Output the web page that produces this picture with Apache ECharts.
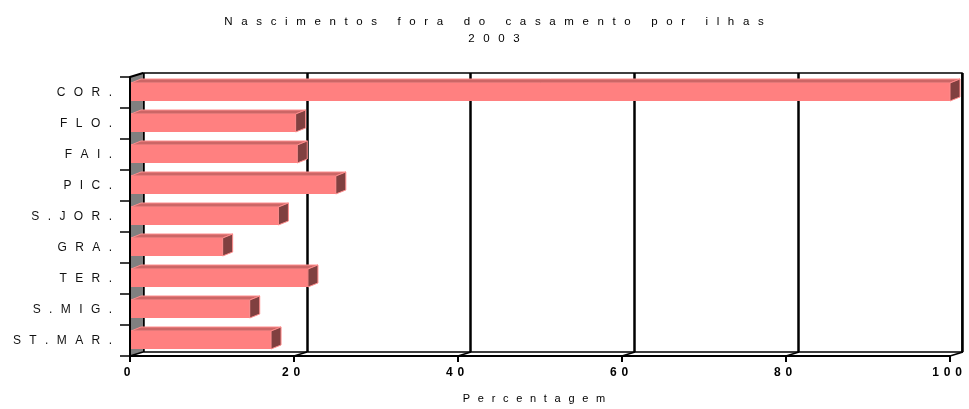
<!DOCTYPE html>
<html><head><meta charset="utf-8">
<script src="https://cdn.jsdelivr.net/npm/echarts@6/dist/echarts.min.js"></script>
<style>html,body{margin:0;padding:0;background:#fff}#c{width:969px;height:409px}</style>
</head><body><div id="c"></div>
<script>
// ---- data ----
const categories = ['COR.', 'FLO.', 'FAI.', 'PIC.', 'S.JOR.', 'GRA.', 'TER.', 'S.MIG.', 'ST.MAR.'];
const values = [100, 20.2, 20.4, 25.1, 18.1, 11.3, 21.7, 14.6, 17.2];
const xTicks = [0, 20, 40, 60, 80, 100];
const titleLines = ['Nascimentos fora do casamento por ilhas', '2003'];
const xName = 'Percentagem';

// ---- style ----
const FONT = '"Liberation Sans", Arial, sans-serif';
const SEP = '\u2002\u2009';
function spaced(s, sep) { return String(s).split('').join(sep || SEP); }
const DX = 13, DY = -4;     // wall depth
const BDX = 10, BDY = -4;   // bar depth
const FRONT = '#FF8080', TOP = '#CC6666', SIDE = '#804040', EDGE = '#FF8C8C', WALL = '#808080';

const chart = echarts.init(document.getElementById('c'), null, {renderer: 'canvas'});

const option = {
  animation: false,
  backgroundColor: '#fff',
  title: {
    text: titleLines.map(l => spaced(l, '\u2002\u2005')).join('\n'),
    left: 489, top: 8, textAlign: 'center',
    textStyle: {fontFamily: FONT, fontSize: 11.5, fontWeight: 'normal', color: '#000', lineHeight: 17}
  },
  grid: [
    {left: 130, right: 19, top: 77, bottom: 53},
    {left: 143, right: 7, top: 73, bottom: 57, show: true, borderColor: '#000', borderWidth: 1.5, backgroundColor: 'transparent'}
  ],
  xAxis: [
    {
      gridIndex: 0, type: 'value', min: 0, max: 100, interval: 20,
      axisLine: {show: true, lineStyle: {color: '#000', width: 2}},
      axisTick: {show: true, length: 6, lineStyle: {color: '#000', width: 2}},
      splitLine: {show: false},
      axisLabel: {formatter: v => spaced(v, '\u2009\u2009'), fontFamily: FONT, fontSize: 12, fontWeight: 'bold', color: '#000', margin: 11, padding: [0, 6, 0, 0]},
      name: spaced(xName), nameLocation: 'middle', nameGap: 37,
      nameTextStyle: {fontFamily: FONT, fontSize: 11, color: '#000', padding: [0, 12, 0, 0]}
    },
    {
      gridIndex: 1, type: 'value', min: 0, max: 100, interval: 20,
      axisLine: {show: false}, axisTick: {show: false}, axisLabel: {show: false},
      splitLine: {show: true, lineStyle: {color: '#000', width: 2.5}}
    }
  ],
  yAxis: [
    {
      gridIndex: 0, type: 'category', data: categories, inverse: true,
      axisLine: {show: true, lineStyle: {color: '#000', width: 2}},
      axisTick: {show: true, length: 10, lineStyle: {color: '#000', width: 1.5}},
      axisLabel: {formatter: v => spaced(v), fontFamily: FONT, fontSize: 12, color: '#111', margin: 18},
      splitLine: {show: false}
    },
    {gridIndex: 1, type: 'category', data: categories, inverse: true, show: false}
  ],
  series: [
    { // left wall + top-left edge
      type: 'custom', xAxisIndex: 0, yAxisIndex: 0, z: 1, silent: true,
      data: [[0, 0]], encode: {x: 0, y: 1},
      renderItem: function (params, api) {
        const cs = params.coordSys;
        const x0 = cs.x + 1, top = cs.y, bot = cs.y + cs.height;
        return {type: 'group', children: [
          {type: 'polygon', shape: {points: [[x0, top], [x0 + DX - 1, top + DY], [x0 + DX - 1, bot + DY], [x0, bot]]}, style: {fill: WALL}},
          {type: 'line', shape: {x1: cs.x, y1: top, x2: cs.x + DX, y2: top + DY}, style: {stroke: '#000', lineWidth: 2}}
        ]};
      }
    },
    { // floor edges at each tick
      type: 'custom', xAxisIndex: 0, yAxisIndex: 0, z: 1, silent: true,
      data: xTicks.map(v => [v, 0]), encode: {x: 0, y: 1},
      renderItem: function (params, api) {
        const cs = params.coordSys;
        const x = api.coord([api.value(0), 0])[0];
        const bot = cs.y + cs.height;
        return {type: 'line', shape: {x1: x, y1: bot, x2: x + DX, y2: bot + DY}, style: {stroke: '#000', lineWidth: 1.5}};
      }
    },
    { // 3D bars
      type: 'custom', xAxisIndex: 0, yAxisIndex: 0, z: 3,
      data: values.map((v, i) => [v, i]), encode: {x: 0, y: 1},
      renderItem: function (params, api) {
        const v = api.value(0), i = api.value(1);
        const s = api.coord([0, i]), e = api.coord([v, i]);
        const h = api.size([0, 1])[1];
        const fh = h * 0.58;
        const x0 = s[0] + 1, x1 = e[0];
        const yt = s[1] - fh / 2 - 0.5, yb = yt + fh;
        return {type: 'group', children: [
          {type: 'polygon', shape: {points: [[x0, yt], [x0 + BDX, yt + BDY], [x1 + BDX, yt + BDY], [x1, yt]]}, style: {fill: TOP, stroke: EDGE, lineWidth: 1}},
          {type: 'rect', shape: {x: x0, y: yt, width: x1 - x0, height: fh}, style: {fill: FRONT}},
          {type: 'polygon', shape: {points: [[x1, yt], [x1 + BDX, yt + BDY], [x1 + BDX, yb + BDY], [x1, yb]]}, style: {fill: SIDE, stroke: EDGE, lineWidth: 1}}
        ]};
      }
    }
  ]
};
chart.setOption(option);
</script>
</body></html>
